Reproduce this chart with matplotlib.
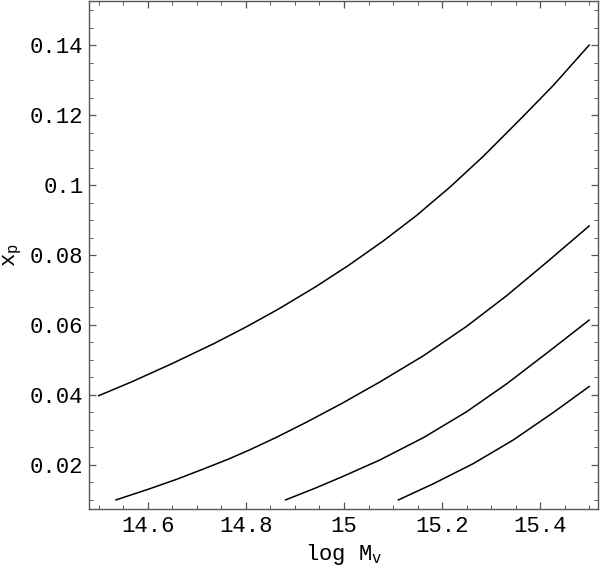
import numpy as np
from matplotlib import pyplot as plt

plt.rcParams['font.family'] = ['Liberation Mono', 'DejaVu Sans']
plt.rcParams['mathtext.fontset'] = 'custom'
plt.rcParams['mathtext.rm'] = 'Liberation Mono'
plt.rcParams['mathtext.it'] = 'Liberation Mono'

# curves (log Mv, xp)
x1 = [14.5, 14.568, 14.65, 14.735, 14.8, 14.867, 14.942, 15.01, 15.08, 15.148,
      15.216, 15.284, 15.363, 15.427, 15.5]
y1 = [0.0398, 0.0438, 0.0490, 0.0547, 0.0594, 0.0646, 0.0709, 0.0771, 0.0840, 0.0913,
      0.0994, 0.1082, 0.1193, 0.1285, 0.1400]

x2 = [14.535, 14.602, 14.657, 14.711, 14.765, 14.806, 14.861, 14.922, 14.996,
      15.073, 15.162, 15.25, 15.332, 15.414, 15.5]
y2 = [0.0100, 0.0131, 0.0158, 0.0187, 0.0217, 0.0242, 0.0278, 0.0321, 0.0376,
      0.0437, 0.0512, 0.0596, 0.0684, 0.0780, 0.0883]

x3 = [14.881, 14.942, 14.996, 15.073, 15.162, 15.25, 15.332, 15.414, 15.5]
y3 = [0.0100, 0.0134, 0.0166, 0.0214, 0.0278, 0.0352, 0.0432, 0.0520, 0.0614]

x4 = [15.111, 15.182, 15.264, 15.346, 15.427, 15.5]
y4 = [0.0100, 0.0146, 0.0204, 0.0272, 0.0350, 0.0424]

xticks = [14.6, 14.8, 15.0, 15.2, 15.4]
xtick_labels = ['14.6', '14.8', '15', '15.2', '15.4']
yticks = [0.02, 0.04, 0.06, 0.08, 0.10, 0.12, 0.14]
ytick_labels = ['0.02', '0.04', '0.06', '0.08', '0.1', '0.12', '0.14']

fig = plt.figure(figsize=(6, 5.66), dpi=100)
ax = fig.add_axes([89 / 600, 57 / 566, 509 / 600, 508 / 566])

for xs, ys in [(x1, y1), (x2, y2), (x3, y3), (x4, y4)]:
    ax.plot(xs, ys, color='black', lw=1.1, solid_joinstyle='round')

ax.set_xlim(14.48, 15.518)
ax.set_ylim(0.0074, 0.1526)

ax.set_xticks(xticks)
ax.set_xticklabels(xtick_labels)
ax.set_yticks(yticks)
ax.set_yticklabels(ytick_labels)
ax.set_xticks(np.arange(14.5, 15.51, 0.05), minor=True)
ax.set_yticks(np.arange(0.01, 0.151, 0.005), minor=True)

for s in ax.spines.values():
    s.set_color('#555555')
    s.set_linewidth(1.0)
ax.tick_params(which='both', direction='in', top=True, right=True, colors='#555555',
               labelcolor='black', labelsize=16)
ax.tick_params(which='major', length=5, width=0.9)
ax.tick_params(which='minor', length=3, width=0.7)
ax.tick_params(axis='x', pad=5)
ax.tick_params(axis='y', pad=4)

ax.set_xlabel(r'log M$_\mathrm{v}$', fontsize=16)
ax.set_ylabel(r'x$_\mathrm{p}$', fontsize=16)
ax.xaxis.set_label_coords(0.5, -0.064)
ax.yaxis.set_label_coords(-0.128, 0.5)

fig.savefig('out.png', dpi=100)
